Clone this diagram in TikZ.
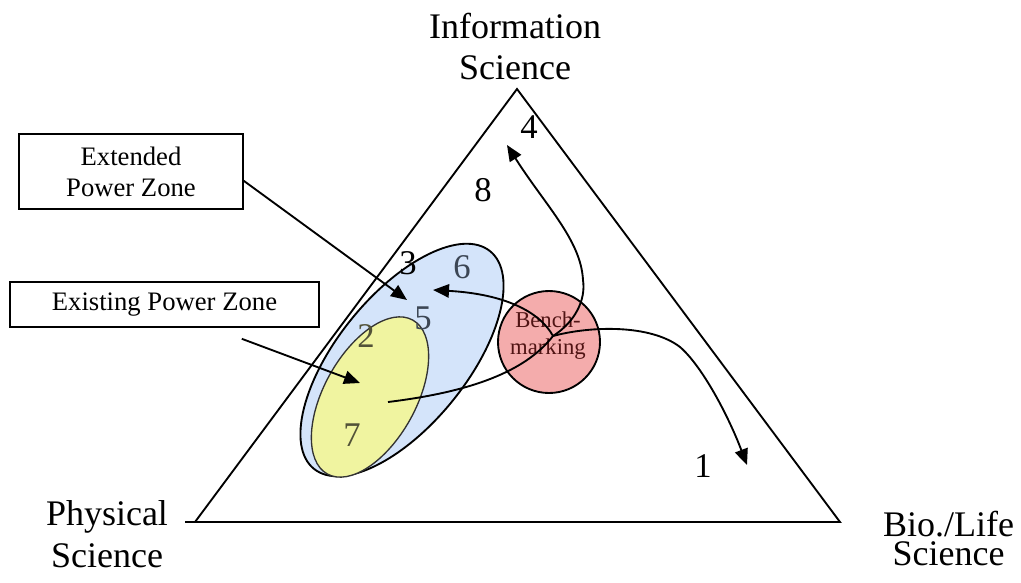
\documentclass[tikz,border=0pt]{standalone}
\usepackage{fontspec}
\setmainfont{Liberation Serif}
\usetikzlibrary{arrows.meta,shapes.geometric}

\definecolor{zoneblue}{RGB}{212,228,250}
\definecolor{zoneyellow}{RGB}{240,244,160}
\definecolor{benchred}{RGB}{244,172,172}
\definecolor{numslate}{RGB}{60,70,84}
\definecolor{numolive}{RGB}{82,82,56}
\definecolor{benchtext}{RGB}{80,20,20}

\begin{document}
\begin{tikzpicture}[x=0.75pt,y=-0.75pt,
  line/.style={line width=1.4pt},
  tip/.style={-{Triangle[length=12pt,width=10pt]}},
  corner/.style={anchor=north, align=center, inner sep=0pt},
  num/.style={font=\fontsize{26}{30}\selectfont, inner sep=0pt},
  callout/.style={draw, line width=1.2pt, font=\fontsize{20}{23.25}\selectfont,
                  align=center, inner sep=0pt},
  zone/.style={ellipse, draw, inner sep=0pt}
]
\useasboundingbox (0,0) rectangle (1021,582);

% power zones and the benchmarking circle
\node[zone, fill=zoneblue, line width=1.4pt, minimum width=210pt,
      minimum height=97.5pt, rotate=51] (extzone) at (402,360) {};
\node[zone, fill=zoneyellow, draw=black!80, line width=1pt, minimum width=132pt,
      minimum height=69pt, rotate=61] (existzone) at (370,397) {};
\node[circle, draw, fill=benchred, line width=1.4pt, minimum size=76.5pt,
      inner sep=0pt] (bench) at (549,342) {};
\node[font=\fontsize{17}{20.25}\selectfont, align=center, text=benchtext,
      inner sep=0pt] (benchlbl) at (548,336) {Bench-\\marking};

% the science triangle
\coordinate (apex) at (517,89);
\coordinate (phys) at (195,522);
\coordinate (bio)  at (840,522);
\draw[line, line join=miter] (185,522) -- (bio) -- (apex) -- (phys);

% corner labels
\node[corner, font=\fontsize{27}{30.75}\selectfont] (info) at (515,12.5)
  {Information\\Science};
\node[corner, font=\fontsize{27}{31.5}\selectfont] (physlbl) at (107,500.5)
  {Physical\\Science};
\node[corner, font=\fontsize{27}{21.75}\selectfont] (biolbl) at (948.5,510.5)
  {Bio./Life\\Science};

% numbered positions
\node[num] (n1) at (703,466) {1};
\node[num, text=numolive] (n2) at (366,336) {2};
\node[num] (n3) at (408,263) {3};
\node[num] (n4) at (529,127) {4};
\node[num, text=numslate] (n5) at (423,318) {5};
\node[num, text=numslate] (n6) at (462,267) {6};
\node[num, text=numolive] (n7) at (352,435) {7};
\node[num] (n8) at (483,190) {8};

% callout boxes
\node[callout, minimum width=168pt, minimum height=56.25pt] (ext)
  at (131,171.5) {Extended\\Power Zone};
\node[callout, minimum width=231.75pt, minimum height=33.75pt] (exist)
  at (164.5,304.5) {Existing Power Zone};

% arrow ends
\coordinate (hub)    at (553,336);
\coordinate (ystart) at (388,402);
\coordinate (t5)     at (433,290);
\coordinate (t4)     at (507,145);
\coordinate (t1)     at (747,465);
\coordinate (text)   at (407,300);
\coordinate (texist) at (360,383);

% flows through benchmarking
\draw[line] (ystart) .. controls (470,392) and (525,372) .. (hub);
\draw[line, tip] (hub) .. controls (540,312) and (505,294) .. (t5);
\draw[line, tip] (hub) .. controls (575,322) and (586,300) .. (583,280)
                       .. controls (581,240) and (545,205) .. (t4);
\draw[line, tip] (hub) .. controls (590,326) and (650,324) .. (680,347)
                       .. controls (702,366) and (728,415) .. (t1);

% callout pointers
\draw[line, tip] ([yshift=-7pt]ext.east) -- (text);
\draw[line, tip] ([xshift=-58.5pt,yshift=-8.25pt]exist.south east) -- (texist);
\end{tikzpicture}
\end{document}
